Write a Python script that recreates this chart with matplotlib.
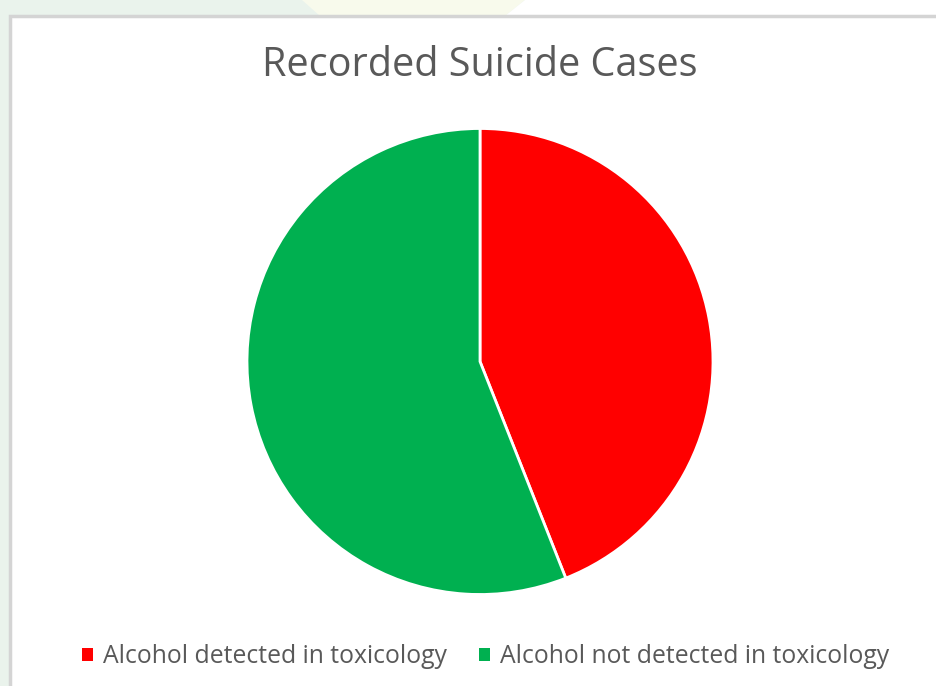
import matplotlib
matplotlib.use("Agg")
import matplotlib.pyplot as plt
from matplotlib.patches import Rectangle, Polygon

labels = ["Alcohol detected in toxicology", "Alcohol not detected in toxicology"]
values = [44, 56]
colors = ["#FF0000", "#00B050"]
title = "Recorded Suicide Cases"

W, H = 937, 686
fig = plt.figure(figsize=(W / 100, H / 100), dpi=100)
fig.patch.set_facecolor("#EAF3EC")

def px(x, y):
    return (x / W, 1 - y / H)

# decorative pale yellow band at top
fig.patches.append(Polygon([px(302, 0), px(525, 0), px(505, 16), px(320, 16)],
                           closed=True, transform=fig.transFigure,
                           facecolor="#F8FAEC", edgecolor="none", zorder=-3))
fig.patches.append(Polygon([px(525, 0), px(937, 0), px(937, 16), px(505, 16)],
                           closed=True, transform=fig.transFigure,
                           facecolor="#FFFFFF", edgecolor="none", zorder=-3))
# chart box
x0, y0 = 10, 16
fig.patches.append(Rectangle(px(x0, H + 5), (W + 5 - x0) / W, (H + 5 - y0) / H,
                             transform=fig.transFigure, facecolor="white",
                             edgecolor="#D4D4D4", linewidth=2.5, zorder=-2))

cx, cy, r = 480, 361.5, 233
ax = fig.add_axes([(cx - r) / W, (H - cy - r) / H, 2 * r / W, 2 * r / H])
ax.pie(values, colors=colors, startangle=90, counterclock=False,
       wedgeprops=dict(edgecolor="white", linewidth=2))
ax.set_xlim(-1, 1)
ax.set_ylim(-1, 1)
ax.set_aspect("equal")
ax.axis("off")

fam = ["Open Sans", "DejaVu Sans"]
fig.text(479.5 / W, 1 - 66 / H, title, ha="center", va="center",
         fontsize=28.5, color="#595959", family=fam)

handles = [Rectangle((0, 0), 1, 1, facecolor=c, edgecolor="none") for c in colors]
leg = fig.legend(handles, labels, loc="center", bbox_to_anchor=(485.5 / W, 1 - 656.5 / H),
                 ncol=2, frameon=False, prop=dict(family=fam, size=17.8),
                 handlelength=0.45, handleheight=0.45, handletextpad=0.4,
                 columnspacing=1.3, borderpad=0, borderaxespad=0)
for t in leg.get_texts():
    t.set_color("#595959")

fig.savefig("out.png", dpi=100, facecolor=fig.get_facecolor())
